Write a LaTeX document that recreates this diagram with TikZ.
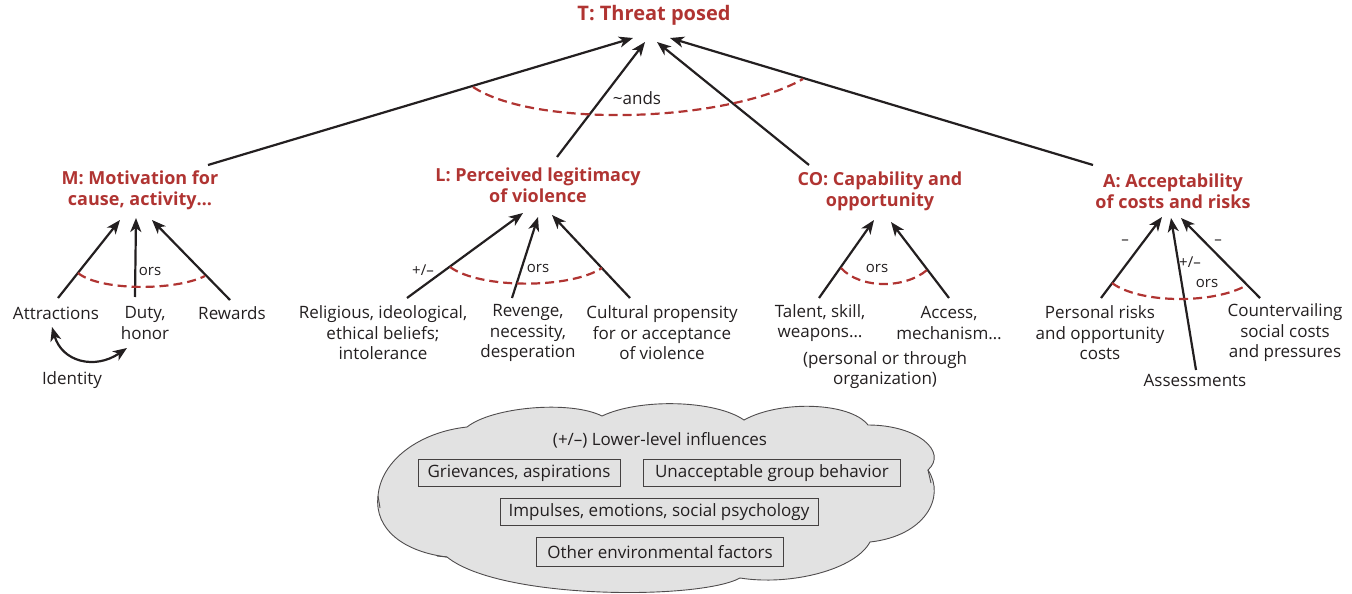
\documentclass[tikz,border=0pt]{standalone}
\usepackage{fontspec}
\setmainfont{Open Sans}
\usetikzlibrary{arrows.meta}
\definecolor{hdr}{RGB}{176,52,50}
\definecolor{cloudfill}{RGB}{226,226,226}
\definecolor{ink}{RGB}{35,31,32}

\begin{document}
\begin{tikzpicture}[x=1pt,y=-1pt,
  txt/.style={font=\fontsize{17}{20.5}\selectfont, text=ink, align=center, inner sep=0pt},
  hdrtxt/.style={font=\fontsize{18}{21}\selectfont\bfseries, text=hdr, align=center, inner sep=0pt},
  link/.style={draw=ink, line width=2.2pt, -{Stealth[length=14pt,width=11pt,inset=4pt]}},
  dbllink/.style={draw=ink, line width=2.2pt, {Stealth[length=14pt,width=11pt,inset=4pt]}-{Stealth[length=14pt,width=11pt,inset=4pt]}},
  orarc/.style={draw=hdr, line width=2.2pt, dash pattern=on 9pt off 5pt},
  tag/.style={font=\fontsize{15}{17}\selectfont, text=ink, inner sep=0pt},
  boxed/.style={draw=ink!85, line width=0.9pt, font=\fontsize{17}{20}\selectfont, text=ink, inner sep=0pt, minimum height=27pt},
]
\useasboundingbox (0,0) rectangle (1352,594);

% ---------- top level ----------
\node[hdrtxt, font=\fontsize{20}{22}\selectfont\bfseries] (T) at (654,15) {T: Threat posed};
\node[hdrtxt] (M)  at (140,190) {M: Motivation for\\cause, activity…};
\node[hdrtxt] (L)  at (538,185) {L: Perceived legitimacy\\of violence};
\node[hdrtxt] (CO) at (880,191) {CO: Capability and\\opportunity};
\node[hdrtxt] (A)  at (1173,191) {A: Acceptability\\of costs and risks};

\coordinate (tM) at (633,38);  \coordinate (fM) at (208,165);
\coordinate (tL) at (645,42);  \coordinate (fL) at (557,157);
\coordinate (tC) at (657,42);  \coordinate (fC) at (809,165);
\coordinate (tA) at (670,38);  \coordinate (fA) at (1093,165);
\draw[link] (fM) -- (tM);
\draw[link] (fL) -- (tL);
\draw[link] (fC) -- (tC);
\draw[link] (fA) -- (tA);
\coordinate (andL) at (473,87);
\coordinate (andR) at (803,79);
\draw[orarc] (andL) .. controls (535,128) and (725,123) .. (andR);
\node[txt] (ands) at (637,98) {\char`\~ands};

% ---------- motivation ----------
\node[txt] (attr) at (56,313) {Attractions};
\node[txt] (duty) at (145,323) {Duty,\\honor};
\node[txt] (rew)  at (232,313) {Rewards};
\node[txt] (iden) at (72,380) {Identity};
\coordinate (m1a) at (58,298);  \coordinate (m1b) at (120,220);
\coordinate (m2a) at (135,297); \coordinate (m2b) at (136,218);
\coordinate (m3a) at (230,300); \coordinate (m3b) at (152,220);
\draw[link] (m1a) -- (m1b);
\draw[link] (m2a) -- (m2b);
\draw[link] (m3a) -- (m3b);
\coordinate (mL) at (78,273); \coordinate (mR) at (205,276);
\draw[orarc] (mL) .. controls (100,291) and (175,291) .. (mR);
\node[tag] (mors) at (150,271) {ors};
\coordinate (ia) at (52,327); \coordinate (ib) at (127,348);
\draw[dbllink] (ia) .. controls (62,362) and (95,370) .. (ib);

% ---------- legitimacy ----------
\node[txt] (rel) at (383,333) {Religious, ideological,\\ethical beliefs;\\intolerance};
\node[txt] (rev) at (528,333) {Revenge,\\necessity,\\desperation};
\node[txt] (cul) at (662,333) {Cultural propensity\\for or acceptance\\of violence};
\coordinate (l1a) at (407,298); \coordinate (l1b) at (523,213);
\coordinate (l2a) at (512,298); \coordinate (l2b) at (538,217);
\coordinate (l3a) at (630,298); \coordinate (l3b) at (552,215);
\draw[link] (l1a) -- (l1b);
\draw[link] (l2a) -- (l2b);
\draw[link] (l3a) -- (l3b);
\coordinate (lL) at (450,267); \coordinate (lR) at (602,268);
\draw[orarc] (lL) .. controls (480,289) and (570,289) .. (lR);
\node[tag] (lors) at (538,268) {ors};
\node[tag] (lpm) at (423,270) {+/–};

% ---------- capability ----------
\node[txt] (tal) at (820,323) {Talent, skill,\\weapons…};
\node[txt] (acc) at (949,323) {Access,\\mechanism…};
\node[txt] (pers) at (885,370) {(personal or through\\organization)};
\coordinate (c1a) at (819,298); \coordinate (c1b) at (874,220);
\coordinate (c2a) at (949,298); \coordinate (c2b) at (891,222);
\draw[link] (c1a) -- (c1b);
\draw[link] (c2a) -- (c2b);
\coordinate (cL) at (841,268); \coordinate (cR) at (927,270);
\draw[orarc] (cL) .. controls (860,289) and (905,289) .. (cR);
\node[tag] (cors) at (877,268) {ors};

% ---------- acceptability ----------
\node[txt] (prisk) at (1100,333) {Personal risks\\and opportunity\\costs};
\node[txt] (asse)  at (1195,380) {Assessments};
\node[txt] (count) at (1285,333) {Countervailing\\social costs\\and pressures};
\coordinate (a1a) at (1101,298); \coordinate (a1b) at (1162,217);
\coordinate (a2a) at (1196,370); \coordinate (a2b) at (1171,218);
\coordinate (a3a) at (1260,298); \coordinate (a3b) at (1181,218);
\draw[link] (a1a) -- (a1b);
\draw[link] (a2a) -- (a2b);
\draw[link] (a3a) -- (a3b);
\coordinate (aL) at (1112,283); \coordinate (aR) at (1247,285);
\draw[orarc] (aL) .. controls (1140,304) and (1215,304) .. (aR);
\node[tag] (aors) at (1207,283) {ors};
\node[tag] (am1) at (1125,242) {–};
\node[tag] (am2) at (1218,242) {–};
\node[tag] (apm) at (1190,262) {+/–};

% ---------- cloud of lower-level influences ----------
\path[draw=ink!80, line width=0.9pt, fill=cloudfill]
  (447,557) .. controls (405,552) and (374,530) .. (378,496)
  .. controls (381,460) and (420,432) .. (467,427)
  .. controls (492,407) and (570,400) .. (602,416)
  .. controls (640,398) and (715,400) .. (744,420)
  .. controls (780,400) and (850,402) .. (868,425)
  .. controls (918,425) and (948,452) .. (928,470)
  .. controls (946,497) and (925,536) .. (870,542)
  .. controls (855,570) and (790,586) .. (740,578)
  .. controls (700,600) and (500,600) .. (447,557) -- cycle;
\draw[draw=ink!80, line width=0.9pt] (378,496) -- (380,508);
\draw[draw=ink!80, line width=0.9pt] (928,470) -- (931,483);
\draw[draw=ink!80, line width=0.9pt] (447,557) -- (437,556);

\node[txt] (low) at (660,440) {(+/–) Lower-level influences};
\node[boxed, minimum width=202pt] (griev) at (519,473) {Grievances, aspirations};
\node[boxed, minimum width=257pt] (unacc) at (772,473) {Unacceptable group behavior};
\node[boxed, minimum width=318pt] (imp)   at (659,512) {Impulses, emotions, social psychology};
\node[boxed, minimum width=247pt, minimum height=29pt] (oth) at (660,552) {Other environmental factors};
\end{tikzpicture}
\end{document}
